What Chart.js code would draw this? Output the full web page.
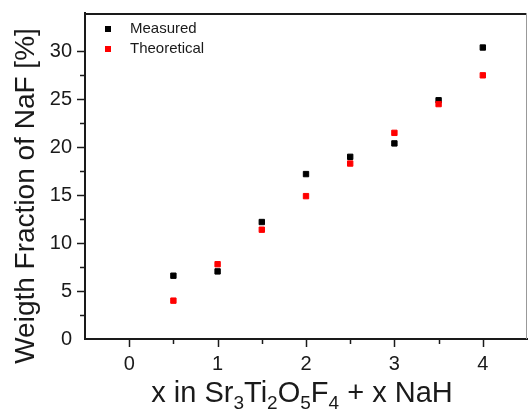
<!DOCTYPE html>
<html>
<head>
<meta charset="utf-8">
<script src="https://cdn.jsdelivr.net/npm/chart.js@4"></script>
<style>
  html, body { margin: 0; padding: 0; background: #fff; overflow: hidden; }
  #wrap { width: 528px; height: 412px; }
</style>
</head>
<body>
<div id="wrap"><canvas id="chart" width="528" height="412"></canvas></div>
<script>
const xValues = [0.5, 1, 1.5, 2, 2.5, 3, 3.5, 4];
const measured = [6.6, 7.05, 12.2, 17.2, 19.0, 20.4, 24.9, 30.4];
const theoretical = [4.0, 7.8, 11.4, 14.9, 18.3, 21.5, 24.5, 27.5];
const seriesNames = ['Measured', 'Theoretical'];
const xTickLabels = ['0', '1', '2', '3', '4'];
const yTickLabels = ['0', '5', '10', '15', '20', '25', '30'];

const FONT = '"Liberation Sans", Arial, sans-serif';

function points(ys) {
    return xValues.map((x, i) => ({ x: x, y: ys[i] }));
}

// frame on top/right plus ticks outside, long for labelled values, short for halves
const frameAndTicks = {
    id: 'frameAndTicks',
    afterDraw(chart) {
        const ctx = chart.ctx;
        const a = chart.chartArea;
        const xs = chart.scales.x, ys = chart.scales.y;
        ctx.save();
        ctx.strokeStyle = '#1a1a1a';
        ctx.lineWidth = 2;
        ctx.beginPath();
        ctx.moveTo(a.left - 1, a.top + 1);
        ctx.lineTo(a.right, a.top + 1);
        ctx.stroke();
        ctx.strokeStyle = '#999999';
        ctx.lineWidth = 1;
        ctx.beginPath();
        ctx.moveTo(a.right - 0.5, a.top);
        ctx.lineTo(a.right - 0.5, a.bottom);
        ctx.stroke();

        ctx.strokeStyle = '#1a1a1a';
        ctx.lineWidth = 1.5;
        xs.ticks.forEach(t => {
            if (t.value <= xs.min || t.value >= xs.max) return;
            const px = Math.round(xs.getPixelForValue(t.value)) + 0.5;
            const len = Number.isInteger(t.value) ? 8 : 5;
            ctx.beginPath();
            ctx.moveTo(px, a.bottom);
            ctx.lineTo(px, a.bottom + len);
            ctx.stroke();
        });
        ys.ticks.forEach(t => {
            if (t.value <= ys.min || t.value >= ys.max) return;
            const py = Math.round(ys.getPixelForValue(t.value)) + 0.5;
            const len = t.value % 5 === 0 ? 8 : 5;
            ctx.beginPath();
            ctx.moveTo(a.left, py);
            ctx.lineTo(a.left - len, py);
            ctx.stroke();
        });
        ctx.restore();
    }
};

// axis titles (with subscripts) and the in-plot legend
const labels = {
    id: 'labels',
    afterDraw(chart) {
        const ctx = chart.ctx;
        ctx.save();
        ctx.fillStyle = '#1a1a1a';

        // y title
        ctx.save();
        ctx.translate(34, 196);
        ctx.rotate(-Math.PI / 2);
        ctx.font = '28px ' + FONT;
        ctx.textAlign = 'center';
        ctx.textBaseline = 'alphabetic';
        ctx.fillText('Weigth Fraction of NaF [%]', 0, 0);
        ctx.restore();

        // x title
        const parts = [
            ['x in Sr', false], ['3', true], ['Ti', false], ['2', true],
            ['O', false], ['5', true], ['F', false], ['4', true], [' + x NaH', false]
        ];
        const big = '29px ' + FONT, small = '19px ' + FONT;
        let total = 0;
        parts.forEach(p => { ctx.font = p[1] ? small : big; total += ctx.measureText(p[0]).width; });
        let x = 302 - total / 2;
        const base = 402;
        ctx.textAlign = 'left';
        ctx.textBaseline = 'alphabetic';
        parts.forEach(p => {
            ctx.font = p[1] ? small : big;
            ctx.fillText(p[0], x, p[1] ? base + 7 : base);
            x += ctx.measureText(p[0]).width;
        });

        // legend
        ctx.font = '15px ' + FONT;
        ctx.textBaseline = 'middle';
        chart.data.datasets.forEach((ds, i) => {
            const cy = 29 + i * 20;
            ctx.fillStyle = ds.backgroundColor;
            ctx.fillRect(105, cy - 3, 6, 6);
            ctx.fillStyle = '#1a1a1a';
            ctx.fillText(ds.label, 130, cy);
        });
        ctx.restore();
    }
};

const config = {
    type: 'scatter',
    data: {
        datasets: [
            {
                label: seriesNames[0],
                data: points(measured),
                backgroundColor: '#000000',
                borderColor: '#000000',
                order: 1
            },
            {
                label: seriesNames[1],
                data: points(theoretical),
                backgroundColor: '#ff0000',
                borderColor: '#ff0000',
                order: 0
            }
        ]
    },
    options: {
        responsive: false,
        animation: false,
        layout: { autoPadding: false, padding: { top: 13, right: 1, left: 0, bottom: 0 } },
        elements: {
            point: { pointStyle: 'rect', radius: 3.8, borderWidth: 1, hoverRadius: 3.8 }
        },
        plugins: {
            legend: { display: false },
            tooltip: { enabled: false }
        },
        scales: {
            x: {
                type: 'linear',
                min: -0.5,
                max: 4.5,
                afterFit: s => { s.height = 73; s.paddingLeft = 0; s.paddingRight = 0; },
                grid: { display: false, drawTicks: false },
                border: { display: true, color: '#1a1a1a', width: 2 },
                ticks: {
                    stepSize: 0.5,
                    padding: 13,
                    color: '#1a1a1a',
                    font: { family: FONT, size: 20 },
                    maxRotation: 0,
                    autoSkip: false,
                    callback: v => Number.isInteger(v) ? xTickLabels[xTickLabels.indexOf(String(v))] : ''
                }
            },
            y: {
                min: 0,
                max: 34,
                afterFit: s => { s.width = 85; s.paddingTop = 0; s.paddingBottom = 0; },
                grid: { display: false, drawTicks: false },
                border: { display: true, color: '#1a1a1a', width: 2 },
                ticks: {
                    stepSize: 2.5,
                    padding: 13,
                    color: '#1a1a1a',
                    font: { family: FONT, size: 20 },
                    autoSkip: false,
                    callback: v => v % 5 === 0 ? yTickLabels[yTickLabels.indexOf(String(v))] : ''
                }
            }
        }
    },
    plugins: [frameAndTicks, labels]
};

new Chart(document.getElementById('chart').getContext('2d'), config);
</script>
</body>
</html>
